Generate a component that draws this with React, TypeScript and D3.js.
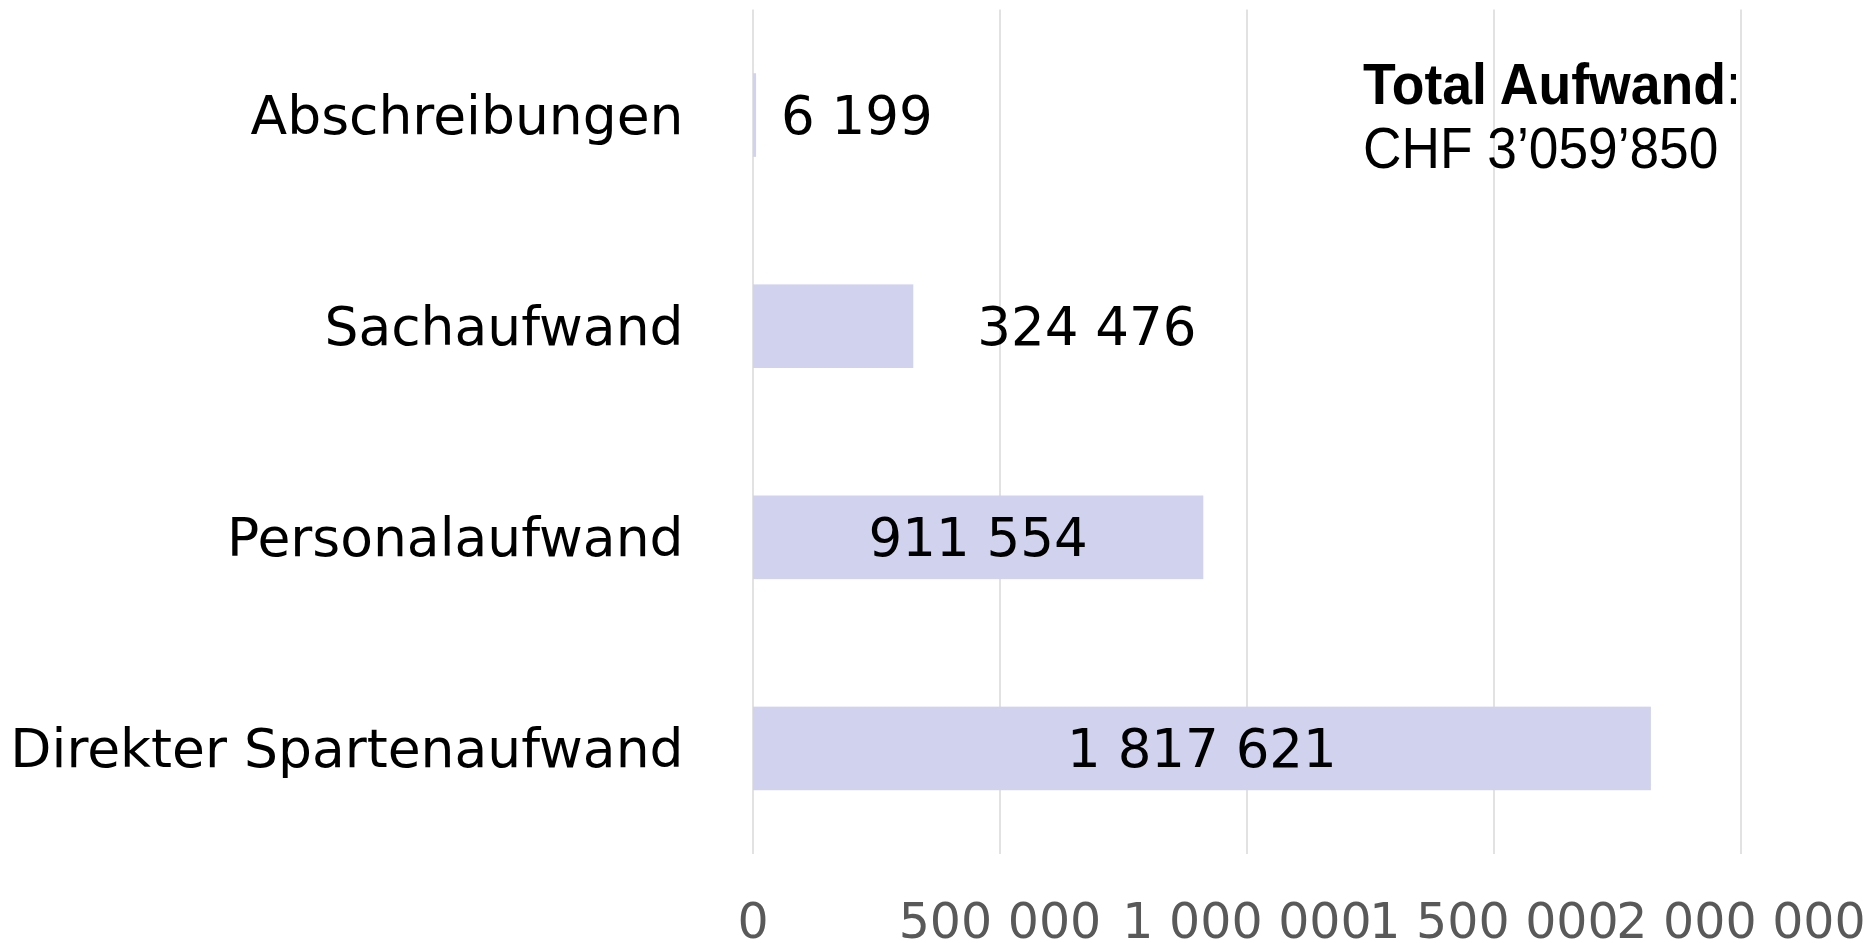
import React from 'react';
import * as d3 from 'd3';

// Aufwand nach Kategorie (CHF)
const categories = ['Abschreibungen', 'Sachaufwand', 'Personalaufwand', 'Direkter Spartenaufwand'];
const values = [6199, 324476, 911554, 1817621];
const tickValues = [0, 500000, 1000000, 1500000, 2000000];
// where the data label sits: 'right' of the bar end, or 'center' of the bar
const labelModes = ['right', 'right', 'center', 'center'];
const labelGaps = [25, 64, 0, 0];

const totalTitle = 'Total Aufwand';
const totalValue = 'CHF 3’059’850';

const WIDTH = 1871;
const HEIGHT = 943;

const locale = d3.formatLocale({ decimal: '.', thousands: ' ', grouping: [3], currency: ['', ''] });
const fmt = locale.format(',d');

const App: React.FC = () => {
  const x = d3.scaleLinear().domain([0, 2000000]).range([753, 1741]);
  const y = d3.scaleBand<string>()
    .domain(categories)
    .range([9.5, 854])
    .paddingInner(0.604)
    .paddingOuter(0.302);

  const labelFont = '"DejaVu Sans", Verdana, sans-serif';
  const barColor = '#d1d2ee';
  const gridColor = '#d9d9d9';

  return (
    <svg
      width={WIDTH}
      height={HEIGHT}
      style={{ position: 'absolute', left: 0, top: 0, background: '#fff' }}
    >
      {/* gridlines */}
      <g>
        {tickValues.map((t) => (
          <line
            key={t}
            x1={x(t)}
            x2={x(t)}
            y1={9.5}
            y2={854}
            stroke={gridColor}
            strokeWidth={1.5}
          />
        ))}
      </g>

      {/* bars */}
      <g>
        {categories.map((c, i) => (
          <rect
            key={c}
            x={x(0)}
            y={y(c)}
            width={x(values[i]) - x(0)}
            height={y.bandwidth()}
            fill={barColor}
          />
        ))}
      </g>

      {/* category labels */}
      <g fontFamily={labelFont} fontSize={53.5} fill="#000">
        {categories.map((c) => (
          <text
            key={c}
            x={683.5}
            y={(y(c) as number) + y.bandwidth() / 2 + 19}
            textAnchor="end"
          >
            {c}
          </text>
        ))}
      </g>

      {/* data labels */}
      <g fontFamily={labelFont} fontSize={53} fill="#000">
        {categories.map((c, i) => {
          const center = labelModes[i] === 'center';
          const lx = center ? (x(0) + x(values[i])) / 2 : x(values[i]) + labelGaps[i];
          return (
            <text
              key={c}
              x={lx}
              y={(y(c) as number) + y.bandwidth() / 2 + 19}
              textAnchor={center ? 'middle' : 'start'}
            >
              {fmt(values[i])}
            </text>
          );
        })}
      </g>

      {/* x axis tick labels */}
      <g fontFamily={labelFont} fontSize={49} fill="#595959">
        {tickValues.map((t) => (
          <text key={t} x={x(t)} y={938} textAnchor="middle">
            {fmt(t)}
          </text>
        ))}
      </g>

      {/* total annotation */}
      <g fontFamily='"Liberation Sans", Arial, sans-serif' fontSize={57} fill="#000">
        <text transform="translate(1363,104) scale(0.94,1)">
          <tspan fontWeight="bold">{totalTitle}</tspan>
          <tspan>:</tspan>
        </text>
        <text transform="translate(1363,168) scale(0.935,1)">{totalValue}</text>
      </g>
    </svg>
  );
};

export default App;
